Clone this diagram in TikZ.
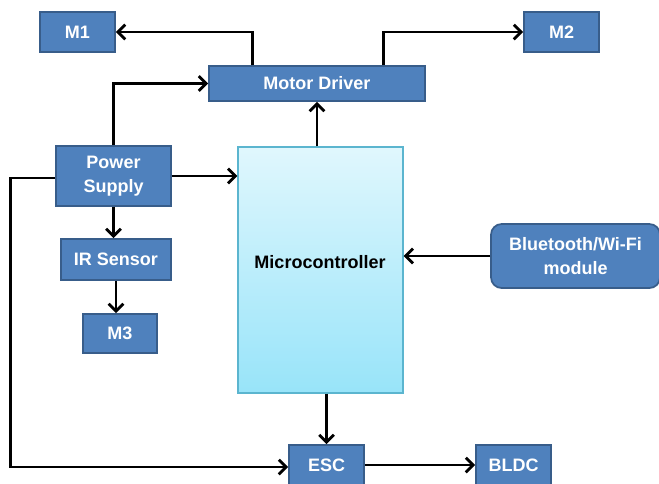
\documentclass[tikz,border=0pt]{standalone}
\usepackage{fontspec}
\setmainfont{Liberation Sans}
\usetikzlibrary{arrows.meta}
\definecolor{boxc}{HTML}{4F81BD}
\definecolor{bordc}{HTML}{385D8A}
\definecolor{mctop}{HTML}{E0F7FD}
\definecolor{mcbot}{HTML}{98E4F9}
\definecolor{mcbord}{HTML}{5BB5CF}
\tikzset{
  blk/.style={draw=bordc, fill=boxc, line width=1.3pt, text=white, inner sep=0pt, align=center,
    font=\fontsize{13.5}{18}\selectfont\bfseries},
  arr/.style={line width=2.1pt, -{Straight Barb[length=5.5pt,width=11pt,line width=2.1pt]}, line join=miter},
}
\begin{document}
\begin{tikzpicture}[x=0.75pt,y=-0.75pt]
\useasboundingbox (0,0) rectangle (659,483);
\clip (0,0) rectangle (659,483);
\fill[white] (0,0) rectangle (659,483);
\node[blk, minimum width=56.25pt, minimum height=30pt] (M1) at (77.5,32) {M1};
\node[blk, minimum width=56.25pt, minimum height=30pt] (M2) at (561.5,32) {M2};
\node[blk, minimum width=162pt, minimum height=26.25pt] (MD) at (317,83.5) {Motor Driver};
\node[blk, minimum width=86.25pt, minimum height=45pt] (PS) at (113.5,176) {Power\\Supply};
\node[blk, minimum width=82.5pt, minimum height=30.75pt] (IR) at (116,259.5) {IR Sensor};
\node[blk, minimum width=55.5pt, minimum height=29.25pt] (M3) at (120,333.5) {M3};
\node[draw=mcbord, line width=1pt, top color=mctop, bottom color=mcbot, minimum width=123.75pt, minimum height=184.5pt, inner sep=0pt] (MC) at (320.5,270) {};
\node[font=\fontsize{13.5}{18}\selectfont\bfseries] (MCT) at (320,262) {Microcontroller};
\node[blk, rounded corners=8pt, minimum width=126.75pt, minimum height=48pt] (BT) at (575.5,256) {Bluetooth/Wi-Fi\\module};
\node[blk, minimum width=56.25pt, minimum height=30pt] (ESC) at (326.5,465) {ESC};
\node[blk, minimum width=56.25pt, minimum height=30pt] (BLDC) at (513.5,465) {BLDC};
% connectors
\draw[arr] ([xshift=33pt]MD.north west) |- (M1.east);
\draw[arr] ([xshift=-31.5pt]MD.north east) |- (M2.west);
\draw[arr] (PS.north) |- (MD.west);
\draw[arr] (MD.south |- MC.north) -- (MD.south);
\draw[arr] (PS.east) -- (PS.east -| MC.west);
\draw[arr] ([yshift=-1.5pt]PS.west) -- ++(-45,0) |- ([yshift=-1.5pt]ESC.west);
\draw[arr] (PS.south) -- (PS.south |- IR.north);
\draw[arr] (IR.south) -- (IR.south |- M3.north);
\draw[arr] (BT.west) -- (BT.west -| MC.east);
\draw[arr] (ESC.north |- MC.south) -- (ESC.north);
\draw[arr] (ESC.east) -- (BLDC.west);
\end{tikzpicture}
\end{document}
